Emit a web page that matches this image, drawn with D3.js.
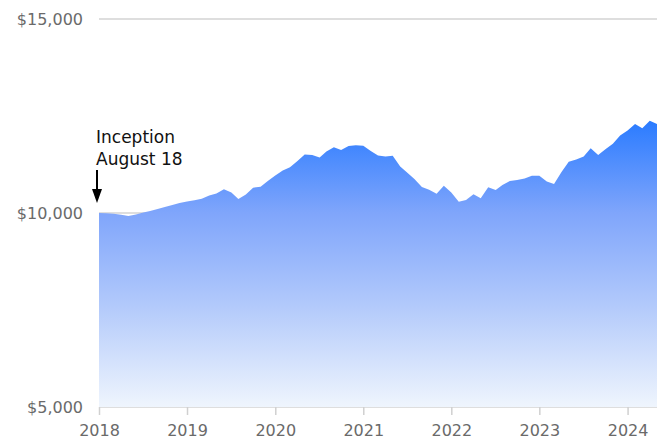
<!DOCTYPE html>
<html>
<head>
<meta charset="utf-8">
<script src="https://cdn.jsdelivr.net/npm/d3@7"></script>
<style>
  body { margin: 0; background: #fff; }
  svg { display: block; font-family: "DejaVu Sans", sans-serif; }
</style>
</head>
<body>
<svg id="chart" width="662" height="441"></svg>
<script>
// monthly growth of $10,000, starting at inception (Aug 2018)
const startMonth = new Date(2018, 7, 1);
const values = [
  10000, 9995, 9980, 9954, 9923, 9961, 10013, 10052, 10103, 10155, 10206, 10258,
  10296, 10327, 10366, 10451, 10503, 10611, 10528, 10361, 10477, 10652, 10678, 10825,
  10966, 11095, 11178, 11340, 11508, 11495, 11430, 11585, 11693, 11624, 11727, 11745,
  11735, 11598, 11482, 11456, 11477, 11198, 11031, 10876, 10670, 10598, 10495, 10704,
  10528, 10291, 10335, 10482, 10379, 10662, 10593, 10722, 10825, 10851, 10889, 10961,
  10961, 10812, 10747, 11057, 11322, 11379, 11456, 11668, 11495, 11642, 11783, 11997,
  12126, 12294, 12183, 12379, 12294
];
const yTicks = [5000, 10000, 15000];
const xTickYears = [2018, 2019, 2020, 2021, 2022, 2023, 2024];

const data = values.map((v, i) => ({date: d3.timeMonth.offset(startMonth, i), value: v}));

const svg = d3.select("#chart");
const margin = {left: 99, right: 5, top: 19, bottom: 34};
const width = 662 - margin.left - margin.right;
const height = 441 - margin.top - margin.bottom;

const x = d3.scaleTime()
  .domain(d3.extent(data, d => d.date))
  .range([0, width]);
const y = d3.scaleLinear()
  .domain([5000, 15000])
  .range([height, 0]);

const defs = svg.append("defs");
const grad = defs.append("linearGradient")
  .attr("id", "areaFill")
  .attr("x1", 0).attr("y1", 0).attr("x2", 0).attr("y2", 1);
grad.append("stop").attr("offset", "0%").attr("stop-color", "#2a7bff");
grad.append("stop").attr("offset", "32%").attr("stop-color", "#7fa5fb");
grad.append("stop").attr("offset", "65%").attr("stop-color", "#b3cafb");
grad.append("stop").attr("offset", "100%").attr("stop-color", "#eff5fd");

const g = svg.append("g").attr("transform", `translate(${margin.left},${margin.top})`);

// grid lines
g.append("g")
  .selectAll("line")
  .data(yTicks)
  .join("line")
  .attr("x1", 0)
  .attr("x2", width)
  .attr("y1", d => y(d))
  .attr("y2", d => y(d))
  .attr("stroke", "#dedede")
  .attr("stroke-width", 2);

// area
const area = d3.area()
  .x(d => x(d.date))
  .y0(y(5000))
  .y1(d => y(d.value));
g.append("path")
  .datum(data)
  .attr("fill", "url(#areaFill)")
  .attr("d", area);

// y labels
g.append("g")
  .selectAll("text")
  .data(yTicks)
  .join("text")
  .attr("x", -16)
  .attr("y", d => y(d))
  .attr("dy", "0.35em")
  .attr("text-anchor", "end")
  .attr("fill", "#6a6a6a")
  .attr("font-size", 16)
  .text(d => "$" + d3.format(",")(d));

// x axis
const xTicks = xTickYears.map(yr => new Date(yr, 7, 1));
const xAxis = g.append("g")
  .attr("transform", `translate(0,${height})`)
  .call(d3.axisBottom(x).tickValues(xTicks).tickFormat(d3.timeFormat("%Y")).tickSize(8).tickPadding(10));
xAxis.select(".domain").remove();
xAxis.selectAll(".tick line").attr("stroke", "#d0d0d0").attr("stroke-width", 1.5);
xAxis.selectAll(".tick text")
  .attr("fill", "#6a6a6a")
  .attr("font-size", 16)
  .attr("font-family", "'DejaVu Sans', sans-serif");

// inception annotation
const ax = x(startMonth) - 2;
const note = g.append("text")
  .attr("x", ax - 1)
  .attr("y", 124)
  .attr("fill", "#111")
  .attr("font-size", 17);
note.append("tspan").attr("x", ax - 1).text("Inception");
note.append("tspan").attr("x", ax - 1).attr("dy", 22).text("August 18");

g.append("line")
  .attr("x1", ax).attr("x2", ax)
  .attr("y1", 151).attr("y2", 172)
  .attr("stroke", "#000")
  .attr("stroke-width", 2);
g.append("path")
  .attr("d", d3.line()([[ax - 5, 170], [ax + 5, 170], [ax, 184]]))
  .attr("fill", "#000");
</script>
</body>
</html>
